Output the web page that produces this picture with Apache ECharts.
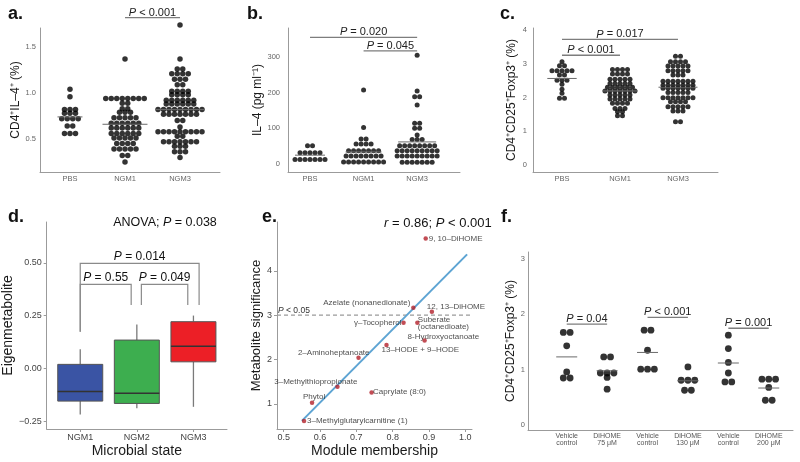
<!DOCTYPE html>
<html><head><meta charset="utf-8"><title>Figure</title>
<script src="https://cdn.jsdelivr.net/npm/echarts@6.0.0/dist/echarts.min.js"></script>
<style>html,body{margin:0;padding:0;background:#fff;}#chart{width:800px;height:462px;}</style>
</head><body><div id="chart"></div>
<script>
// ================= DATA =================
const abcGroups = ['PBS', 'NGM1', 'NGM3'];

// panel a: CD4+IL-4+ (%)
const aPBS = [1.04, 0.96, 0.82, 0.82, 0.82, 0.78, 0.78, 0.78, 0.72, 0.72, 0.72, 0.72, 0.64, 0.64, 0.56, 0.56, 0.56];
const aNGM1 = [1.37, 0.94, 0.94, 0.94, 0.94, 0.94, 0.94, 0.94, 0.94, 0.89, 0.89, 0.83, 0.83, 0.79, 0.79, 0.79, 0.73, 0.73, 0.73, 0.73, 0.73, 0.67, 0.67, 0.67, 0.67, 0.67, 0.67, 0.62, 0.62, 0.62, 0.62, 0.62, 0.62, 0.56, 0.56, 0.56, 0.56, 0.56, 0.56, 0.51, 0.51, 0.51, 0.51, 0.51, 0.45, 0.45, 0.45, 0.45, 0.39, 0.39, 0.39, 0.39, 0.39, 0.32, 0.32, 0.25];
const aNGM3 = [1.74, 1.37, 1.26, 1.26, 1.21, 1.21, 1.21, 1.21, 1.15, 1.15, 1.15, 1.09, 1.09, 1.02, 1.02, 1.02, 1.02, 0.98, 0.98, 0.98, 0.98, 0.92, 0.92, 0.92, 0.92, 0.92, 0.92, 0.88, 0.88, 0.88, 0.88, 0.88, 0.88, 0.82, 0.82, 0.82, 0.82, 0.82, 0.82, 0.82, 0.82, 0.82, 0.77, 0.77, 0.77, 0.77, 0.77, 0.77, 0.77, 0.70, 0.70, 0.63, 0.58, 0.58, 0.58, 0.58, 0.58, 0.58, 0.58, 0.58, 0.58, 0.53, 0.53, 0.47, 0.47, 0.47, 0.47, 0.47, 0.47, 0.47, 0.42, 0.42, 0.42, 0.36, 0.36, 0.36, 0.30];
const aCenterLine = [0.74, 0.66, 0.82];
const aTicks = [0.5, 1.0, 1.5];
const aSig = [[2, 3, 1.82, 'P < 0.001']];

// panel b: IL-4 (pg/ml)
const bPBS = [51, 51, 32, 32, 32, 32, 32, 13, 13, 13, 13, 13, 13, 13];
const bNGM1 = [207, 102, 70, 70, 56, 56, 56, 56, 37, 37, 37, 37, 37, 37, 37, 23, 23, 23, 23, 23, 23, 23, 23, 6, 6, 6, 6, 6, 6, 6, 6, 6];
const bNGM3 = [304, 204, 188, 188, 165, 114, 114, 100, 100, 81, 69, 69, 69, 51, 51, 51, 51, 51, 51, 51, 51, 37, 37, 37, 37, 37, 37, 37, 37, 37, 23, 23, 23, 23, 23, 23, 23, 23, 23, 5, 5, 5, 5, 5, 5, 5];
const bCenterLine = [25, 34, 62];
const bTicks = [0, 100, 200, 300];
const bSig = [[1, 3, 354, 'P = 0.020'], [2, 3, 316, 'P = 0.045']];

// panel c: CD4+CD25+Foxp3+ (%)
const cPBS = [3.07, 2.95, 2.95, 2.80, 2.80, 2.80, 2.80, 2.80, 2.67, 2.67, 2.52, 2.52, 2.52, 2.40, 2.25, 2.13, 1.98, 1.98];
const cNGM1 = [2.84, 2.84, 2.84, 2.84, 2.70, 2.70, 2.70, 2.70, 2.55, 2.55, 2.55, 2.55, 2.55, 2.42, 2.42, 2.42, 2.42, 2.42, 2.31, 2.31, 2.31, 2.31, 2.31, 2.31, 2.20, 2.20, 2.20, 2.20, 2.20, 2.20, 2.20, 2.08, 2.08, 2.08, 2.08, 2.08, 1.96, 1.96, 1.96, 1.96, 1.96, 1.83, 1.83, 1.83, 1.83, 1.68, 1.68, 1.68, 1.58, 1.58, 1.46, 1.46];
const cNGM3 = [3.23, 3.23, 3.07, 3.07, 3.07, 3.07, 2.94, 2.94, 2.94, 2.94, 2.94, 2.80, 2.80, 2.80, 2.80, 2.80, 2.67, 2.67, 2.67, 2.49, 2.49, 2.49, 2.49, 2.49, 2.49, 2.49, 2.37, 2.37, 2.37, 2.37, 2.37, 2.37, 2.37, 2.28, 2.28, 2.28, 2.28, 2.28, 2.28, 2.28, 2.15, 2.15, 2.15, 2.15, 2.15, 2.00, 2.00, 2.00, 2.00, 2.00, 2.00, 2.00, 1.88, 1.88, 1.88, 1.88, 1.73, 1.73, 1.73, 1.73, 1.73, 1.60, 1.60, 1.60, 1.28, 1.28];
const cCenterLine = [2.57, 2.20, 2.31];
const cTicks = [0, 1, 2, 3, 4];
const cSig = [[1, 3, 3.73, 'P = 0.017'], [1, 2, 3.26, 'P < 0.001']];

// panel d: eigenmetabolite boxplots [min, Q1, median, Q3, max]
const dGroups = ['NGM1', 'NGM2', 'NGM3'];
const dBox = [
  [-0.218, -0.155, -0.110, 0.019, 0.091],
  [-0.189, -0.166, -0.118, 0.134, 0.208],
  [-0.182, 0.031, 0.105, 0.221, 0.250]
];
const dTicks = [-0.25, 0, 0.25, 0.5];
// [x1, x2, bracket y, left leg end, right leg end, text]
const dSig = [
  [1, 3.1, 0.497, 0.173, 0.30, 'P = 0.014'],
  [1, 1.9, 0.398, 0.173, 0.30, 'P = 0.55'],
  [2.08, 2.9, 0.398, 0.30, 0.30, 'P = 0.049']
];
const dAnova = 'ANOVA; P = 0.038';

// panel e: metabolite significance vs module membership
const eNames = ['9, 10–DiHOME', 'Azelate (nonanedionate)', '12, 13–DiHOME', 'γ–Tocopherol', 'Suberate\n(octanedioate)', '8-Hydroxyoctanoate', '13–HODE + 9–HODE', '2–Aminoheptanoate', '3–Methylthiopropionate', 'Caprylate (8:0)', 'Phytol', '3–Methylglutarylcarnitine (1)'];
const eMM = [0.891, 0.857, 0.908, 0.830, 0.868, 0.888, 0.783, 0.706, 0.648, 0.742, 0.578, 0.556];
const eMS = [4.73, 3.17, 3.08, 2.83, 2.83, 2.43, 2.33, 2.04, 1.39, 1.26, 1.03, 0.62];
const eFit = [[0.55, 0.62], [1.005, 4.37]];
const eThreshold = 3;
const eXTicks = [0.5, 0.6, 0.7, 0.8, 0.9, 1.0];
const eYTicks = [1, 2, 3, 4];
const eStat = 'r = 0.86; P < 0.001';

// panel f
const fGroups = ['Vehicle\ncontrol', 'DiHOME\n75 μM', 'Vehicle\ncontrol', 'DiHOME\n130 μM', 'Vehicle\ncontrol', 'DiHOME\n200 μM'];
const fVeh1 = [1.67, 1.67, 1.43, 0.96, 0.85, 0.85];
const fDi75 = [1.23, 1.23, 0.94, 0.94, 0.94, 0.86, 0.65];
const fVeh2 = [1.71, 1.71, 1.35, 1.01, 1.01, 1.01];
const fDi130 = [1.05, 0.81, 0.81, 0.81, 0.63, 0.63];
const fVeh3 = [1.62, 1.38, 1.13, 0.94, 0.78, 0.78];
const fDi200 = [0.83, 0.83, 0.83, 0.68, 0.45, 0.45];
const fCenterLine = [1.23, 0.98, 1.31, 0.80, 1.12, 0.67];
const fTicks = [0, 1, 2, 3];
const fSig = [[1, 2, 1.82, 'P = 0.04'], [3, 4, 1.94, 'P < 0.001'], [5, 6, 1.745, 'P = 0.001']];

// ================= LAYOUT / STYLE =================
const FONT = "'Liberation Sans', Arial, Helvetica, sans-serif";
const G = [
  {left: 40, top: 28, width: 180, height: 144},
  {left: 288, top: 28, width: 172, height: 144},
  {left: 533, top: 28, width: 185, height: 144},
  {left: 39, top: 222, width: 188, height: 207},
  {left: 277, top: 222, width: 195, height: 207},
  {left: 528, top: 252, width: 265, height: 178}
];
const XR = [[0.455, 3.727], [0.589, 3.80], [0.5, 3.69], [0.407, 3.593], [0.4815, 1.0185], [0.042, 6.60]];
const YR = [[0.141, 1.707], [-22, 380], [-0.21, 4.07], [-0.287, 0.693], [0.437, 5.10], [-0.085, 3.117]];
const dColors = ['#3A54A4', '#3DAE4F', '#EC1F26'];
const eLabelPlace = {
  '9, 10–DiHOME': ['left', 3, 0],
  'Azelate (nonanedionate)': ['right', -3, -4.5],
  '12, 13–DiHOME': ['left', -5, -5],
  'γ–Tocopherol': ['right', -2, 0.5],
  'Suberate\n(octanedioate)': ['left', 0.5, 0.5],
  '8-Hydroxyoctanoate': ['left', -17, -3.6],
  '13–HODE + 9–HODE': ['left', -5, 5],
  '2–Aminoheptanoate': ['right', 11, -5],
  '3–Methylthiopropionate': ['right', 20, -5],
  'Caprylate (8:0)': ['left', 1.5, -0.5],
  'Phytol': ['center', 2, -6],
  '3–Methylglutarylcarnitine (1)': ['left', 3, 0]
};

function fmtP(s) { return s.replace(/(^|; )([Pr]) /g, '$1{i|$2} '); }
function rich(fs, col) { return {i: {fontStyle: 'italic', fontSize: fs, fontFamily: FONT, fill: col, color: col}}; }

function swarm(groups, dotPx, gi) {
  const ppu = G[gi].width / (XR[gi][1] - XR[gi][0]);
  const pts = [];
  groups.forEach((vals, g) => {
    const rows = new Map();
    vals.forEach(v => { const k = v.toFixed(4); if (!rows.has(k)) rows.set(k, []); rows.get(k).push(v); });
    rows.forEach(r => r.forEach((v, i) => pts.push([g + 1 + (i - (r.length - 1) / 2) * dotPx / ppu, v])));
  });
  return pts;
}

function mkAxis(gi, ticks, fmt, st) {
  const isX = st.dir === 'x';
  const r = isX ? XR[gi] : YR[gi];
  return {
    type: 'value', gridIndex: gi, min: r[0], max: r[1],
    splitLine: {show: false},
    axisLine: {show: true, onZero: false, lineStyle: {color: '#9b9b9b', width: 1}},
    axisTick: {show: !!st.tick, length: 3, customValues: ticks, lineStyle: {color: '#9b9b9b'}},
    axisLabel: {customValues: ticks, formatter: fmt, fontSize: st.fs, color: st.color, fontFamily: FONT, margin: st.margin, lineHeight: st.lh || st.fs + 1},
    name: st.name || '', nameLocation: 'middle', nameGap: st.gap || 0, nameRotate: isX ? 0 : 90,
    nameTextStyle: {fontSize: st.nfs || 12, color: '#1a1a1a', fontFamily: FONT}
  };
}

function dotSeries(gi, groups, dot, centerLine, halfs) {
  return [
    {type: 'scatter', xAxisIndex: gi, yAxisIndex: gi, data: swarm(groups, dot, gi), symbolSize: dot,
     itemStyle: {color: '#000'}, clip: false, silent: true, z: 3},
    {type: 'custom', xAxisIndex: gi, yAxisIndex: gi, clip: false, silent: true, z: 4,
     data: centerLine.map((v, i) => [i + 1, v]),
     renderItem: (p, api) => {
       const c = api.coord([api.value(0), api.value(1)]); const h = halfs[p.dataIndex];
       return {type: 'line', shape: {x1: c[0] - h, y1: c[1], x2: c[0] + h, y2: c[1]}, style: {stroke: '#6a6a6a', lineWidth: 1}};
     }}
  ];
}

function underlineSeries(gi, sig, fs) {
  return {type: 'custom', xAxisIndex: gi, yAxisIndex: gi, clip: false, silent: true, z: 5,
    data: sig.map(s => [s[0], s[2]]),
    renderItem: (p, api) => {
      const s = sig[p.dataIndex];
      const a = api.coord([s[0], s[2]]), b = api.coord([s[1], s[2]]);
      return {type: 'group', children: [
        {type: 'line', shape: {x1: a[0], y1: a[1], x2: b[0], y2: b[1]}, style: {stroke: '#7d7d7d', lineWidth: 1.3}},
        {type: 'text', x: (a[0] + b[0]) / 2, y: a[1] + 0.5,
         style: {text: fmtP(s[3]), rich: rich(fs, '#222'), fontSize: fs, fontFamily: FONT, fill: '#222', align: 'center', verticalAlign: 'bottom'}}
      ]};
    }};
}

const smallTick = {fs: 7.5, color: '#666'};
const catFmt = v => abcGroups[Math.round(v) - 1] || '';

const xAxes = [
  mkAxis(0, [1, 2, 3], catFmt, Object.assign({dir: 'x', margin: 3}, smallTick)),
  mkAxis(1, [1, 2, 3], catFmt, Object.assign({dir: 'x', margin: 3}, smallTick)),
  mkAxis(2, [1, 2, 3], catFmt, Object.assign({dir: 'x', margin: 3}, smallTick)),
  mkAxis(3, [1, 2, 3], v => dGroups[Math.round(v) - 1] || '', {dir: 'x', fs: 9, color: '#444', margin: 4, tick: true, name: 'Microbial state', gap: 15, nfs: 14}),
  mkAxis(4, eXTicks, v => v.toFixed(1), {dir: 'x', fs: 9, color: '#444', margin: 4, tick: true, name: 'Module membership', gap: 14, nfs: 14}),
  mkAxis(5, [1, 2, 3, 4, 5, 6], v => fGroups[Math.round(v) - 1] || '', {dir: 'x', fs: 7, color: '#555', margin: 3, lh: 7})
];
const yAxes = [
  mkAxis(0, aTicks, v => v.toFixed(1), Object.assign({dir: 'y', margin: 4, name: 'CD4⁺IL–4⁺ (%)', gap: 14, nfs: 12}, smallTick)),
  mkAxis(1, bTicks, v => String(Math.round(v)), Object.assign({dir: 'y', margin: 8, name: 'IL–4 (pg ml⁻¹)', gap: 19, nfs: 12}, smallTick)),
  mkAxis(2, cTicks, v => String(Math.round(v)), Object.assign({dir: 'y', margin: 6, name: 'CD4⁺CD25⁺Foxp3⁺ (%)', gap: 15, nfs: 12}, smallTick)),
  mkAxis(3, dTicks, v => v.toFixed(2).replace('-', '−'), {dir: 'y', fs: 9, color: '#444', margin: 5, tick: true, name: 'Eigenmetabolite', gap: 17, nfs: 14}),
  mkAxis(4, eYTicks, v => String(Math.round(v)), {dir: 'y', fs: 9, color: '#444', margin: 5, tick: true, name: 'Metabolite significance', gap: 6, nfs: 13}),
  mkAxis(5, fTicks, v => String(Math.round(v)), Object.assign({dir: 'y', margin: 3, name: 'CD4⁺CD25⁺Foxp3⁺ (%)', gap: 9, nfs: 12}, smallTick))
];

const series = [];
series.push(...dotSeries(0, [aPBS, aNGM1, aNGM3], 5.5, aCenterLine, [12.5, 22.5, 24]));
series.push(underlineSeries(0, aSig, 11));
series.push(...dotSeries(1, [bPBS, bNGM1, bNGM3], 5, bCenterLine, [15, 18, 19]));
series.push(underlineSeries(1, bSig, 11));
series.push(...dotSeries(2, [cPBS, cNGM1, cNGM3], 5, cCenterLine, [14.7, 17.5, 19.5]));
series.push(underlineSeries(2, cSig, 11));
series.push(...dotSeries(5, [fVeh1, fDi75, fVeh2, fDi130, fVeh3, fDi200], 6.8, fCenterLine, [10.5, 10.5, 10.5, 10.5, 10.5, 10.5]));
series.push(underlineSeries(5, fSig, 11));

// panel d boxes
series.push({type: 'custom', xAxisIndex: 3, yAxisIndex: 3, clip: false, silent: true, z: 3,
  data: dBox.map((b, i) => [i + 1, b[2]]),
  renderItem: (p, api) => {
    const b = dBox[p.dataIndex]; const x = p.dataIndex + 1;
    const Y = v => api.coord([x, v])[1];
    const cx = api.coord([x, b[2]])[0]; const hw = 22.5;
    return {type: 'group', children: [
      {type: 'line', shape: {x1: cx, y1: Y(b[4]), x2: cx, y2: Y(b[3])}, style: {stroke: '#7a7a7a', lineWidth: 1.3}},
      {type: 'line', shape: {x1: cx, y1: Y(b[1]), x2: cx, y2: Y(b[0])}, style: {stroke: '#7a7a7a', lineWidth: 1.3}},
      {type: 'rect', shape: {x: cx - hw, y: Y(b[3]), width: 2 * hw, height: Y(b[1]) - Y(b[3])}, style: {fill: dColors[p.dataIndex], stroke: '#555', lineWidth: 1}},
      {type: 'line', shape: {x1: cx - hw, y1: Y(b[2]), x2: cx + hw, y2: Y(b[2])}, style: {stroke: '#333', lineWidth: 1.5}}
    ]};
  }});
// panel d brackets
series.push({type: 'custom', xAxisIndex: 3, yAxisIndex: 3, clip: false, silent: true, z: 4,
  data: dSig.map(s => [s[0], s[2]]),
  renderItem: (p, api) => {
    const s = dSig[p.dataIndex];
    const a = api.coord([s[0], s[2]]), b = api.coord([s[1], s[2]]);
    const la = api.coord([s[0], s[3]]), lb = api.coord([s[1], s[4]]);
    return {type: 'group', children: [
      {type: 'polyline', shape: {points: [la, a, b, lb]}, style: {stroke: '#8a8a8a', lineWidth: 1.2, fill: 'none'}},
      {type: 'text', x: (a[0] + b[0]) / 2, y: a[1] - 1,
       style: {text: fmtP(s[5]), rich: rich(12, '#111'), fontSize: 12, fontFamily: FONT, fill: '#111', align: 'center', verticalAlign: 'bottom'}}
    ]};
  }});

// panel e threshold line
series.push({type: 'custom', xAxisIndex: 4, yAxisIndex: 4, clip: false, silent: true, z: 2,
  data: [[XR[4][0], eThreshold]],
  renderItem: (p, api) => {
    const l = api.coord([XR[4][0], eThreshold]), r = api.coord([XR[4][1], eThreshold]);
    return {type: 'group', children: [
      {type: 'line', shape: {x1: l[0], y1: l[1], x2: r[0], y2: r[1]}, style: {stroke: '#9a9a9a', lineWidth: 1.2, lineDash: [4, 3]}},
      {type: 'text', x: l[0] + 1, y: l[1] - 0.5,
       style: {text: fmtP('P < 0.05'), rich: rich(8.5, '#333'), fontSize: 8.5, fontFamily: FONT, fill: '#333', align: 'left', verticalAlign: 'bottom'}}
    ]};
  }});
// regression line
series.push({type: 'line', xAxisIndex: 4, yAxisIndex: 4, data: eFit, showSymbol: false, symbol: 'none', silent: true, z: 3,
  lineStyle: {color: '#5DA4D3', width: 2}});
// metabolite points
series.push({type: 'scatter', xAxisIndex: 4, yAxisIndex: 4, clip: false, silent: true, z: 5, symbolSize: 4.5,
  itemStyle: {color: '#B3202B'},
  data: eNames.map((n, i) => {
    const pl = eLabelPlace[n];
    return {name: n, value: [eMM[i], eMS[i]],
      label: {show: true, formatter: '{b}', position: [pl[1] + 2.25, pl[2] + 2.25], align: pl[0], verticalAlign: 'middle',
        fontSize: 8, color: '#222', fontFamily: FONT, lineHeight: 7.5}};
  })});

const letters = [['a.', 8, 14], ['b.', 247, 14], ['c.', 500, 14], ['d.', 8, 217], ['e.', 262, 217], ['f.', 501, 217]];
const graphic = letters.map(l => ({type: 'text', x: l[1], y: l[2], silent: true,
  style: {text: l[0], fontSize: 18, fontWeight: 'bold', fontFamily: FONT, fill: '#111', align: 'left', verticalAlign: 'middle'}}));
graphic.push({type: 'text', x: 165, y: 223, silent: true,
  style: {text: fmtP(dAnova), rich: rich(12.5, '#111'), fontSize: 12.5, fontFamily: FONT, fill: '#111', align: 'center', verticalAlign: 'middle'}});
graphic.push({type: 'text', x: 384, y: 223, silent: true,
  style: {text: fmtP(eStat), rich: rich(13, '#111'), fontSize: 13, fontFamily: FONT, fill: '#111', align: 'left', verticalAlign: 'middle'}});

const chart = echarts.init(document.getElementById('chart'), null, {renderer: 'canvas', width: 800, height: 462});
chart.setOption({
  animation: false,
  backgroundColor: '#fff',
  grid: G.map(g => Object.assign({containLabel: false}, g)),
  xAxis: xAxes,
  yAxis: yAxes,
  series: series,
  graphic: graphic
});
</script></body></html>
